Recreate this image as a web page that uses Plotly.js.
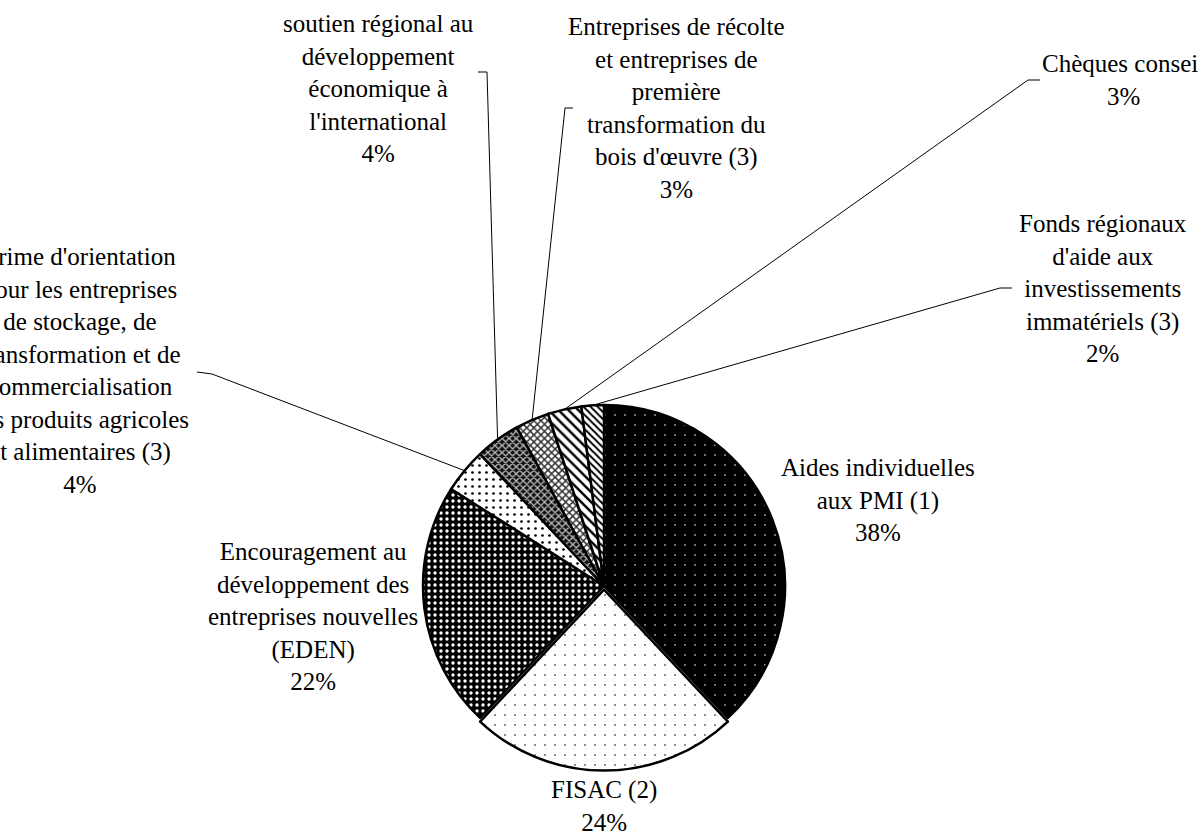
<!DOCTYPE html>
<html>
<head>
<meta charset="utf-8">
<script src="https://cdn.plot.ly/plotly-3.0.1.min.js"></script>
<style>
html,body{margin:0;padding:0;background:#ffffff;}
#chart{width:1198px;height:834px;}
</style>
</head>
<body>
<div id="chart"></div>
<script>
// ---- data ----
const categories = [
  "Aides individuelles aux PMI (1)",
  "FISAC (2)",
  "Encouragement au développement des entreprises nouvelles (EDEN)",
  "Prime d'orientation pour les entreprises de stockage, de transformation et de commercialisation des produits agricoles et alimentaires (3)",
  "soutien régional au développement économique à l'international",
  "Entreprises de récolte et entreprises de première transformation du bois d'œuvre (3)",
  "Chèques conseil",
  "Fonds régionaux d'aide aux investissements immatériels (3)"
];
const labelLines = [
  ["Aides individuelles", "aux PMI (1)"],
  ["FISAC (2)"],
  ["Encouragement au", "développement des", "entreprises nouvelles", "(EDEN)"],
  ["Prime d'orientation", "pour les entreprises", "de stockage, de", "transformation et de", "commercialisation", "des produits agricoles", "et alimentaires (3)"],
  ["soutien régional au", "développement", "économique à", "l'international"],
  ["Entreprises de récolte", "et entreprises de", "première", "transformation du", "bois d'œuvre (3)"],
  ["Chèques conseil"],
  ["Fonds régionaux", "d'aide aux", "investissements", "immatériels (3)"]
];
const values = [38, 24, 22, 4, 4, 3, 3, 2];
const pulls = [0, 0.02, 0, 0, 0, 0, 0, 0];

// ---- layout / style constants (pixels) ----
const W = 1198, H = 834;
const CX = 604, CY = 586, R = 181;
const maxPull = Math.max(...pulls);
const half = R * (1 + maxPull);

// label centres (px) and leader-line anchors
const labelPos = [
  [878, 500], [604, 806], [313, 616], [80, 370],
  [378, 88], [676, 108], [1123, 80], [1103, 288]
];
const leaders = [
  null, null, null,
  [[197, 372], [212, 374]],
  [[478, 72], [487, 72]],
  [[573, 108], [565, 108]],
  [[1040, 80], [1028, 80]],
  [[1012, 288], [1000, 288]]
];

const patShapes = [".", ".", ".", ".", "x", "x", "\\", "\\"];
const patBg = ["#000000", "#ffffff", "#000000", "#ffffff", "#111111", "#ffffff", "#ffffff", "#ffffff"];
const patFg = ["#ffffff", "#000000", "#ffffff", "#000000", "#bbbbbb", "#333333", "#000000", "#000000"];
const patSize = [10, 10, 6, 7, 5, 5, 7, 5];
const patSolid = [0.02, 0.02, 0.25, 0.12, 0.45, 0.5, 0.35, 0.4];

const total = values.reduce((a, b) => a + b, 0);
const px2x = x => x / W;
const px2y = y => 1 - y / H;

const trace = {
  type: "pie",
  labels: categories,
  values: values,
  sort: false,
  direction: "clockwise",
  rotation: 0,
  pull: pulls,
  textinfo: "none",
  hoverinfo: "label+percent",
  showlegend: false,
  domain: {
    x: [px2x(CX - half), px2x(CX + half)],
    y: [px2y(CY + half), px2y(CY - half)]
  },
  marker: {
    colors: patBg,
    line: {color: "#000000", width: 2.5},
    pattern: {
      shape: patShapes,
      bgcolor: patBg,
      fgcolor: patFg,
      size: patSize,
      solidity: patSolid,
      fillmode: "replace"
    }
  }
};

const annotations = [];
const shapes = [];
let cum = 0;
values.forEach((v, i) => {
  const pct = Math.round(v / total * 100) + "%";
  const txt = labelLines[i].concat([pct]).join("<br>");
  annotations.push({
    xref: "paper", yref: "paper",
    x: px2x(labelPos[i][0]), y: px2y(labelPos[i][1]),
    xanchor: "center", yanchor: "middle",
    text: txt, showarrow: false, align: "center",
    font: {family: "Liberation Serif, Times New Roman, serif", size: 25, color: "#000000"}
  });
  const mid = (cum + v / 2) / total;
  cum += v;
  if (leaders[i]) {
    const th = 2 * Math.PI * mid;
    const ex = CX + R * Math.sin(th);
    const ey = CY - R * Math.cos(th);
    const p = leaders[i];
    shapes.push({
      type: "path", xref: "paper", yref: "paper",
      path: "M" + px2x(p[0][0]) + "," + px2y(p[0][1]) +
            " L" + px2x(p[1][0]) + "," + px2y(p[1][1]) +
            " L" + px2x(ex) + "," + px2y(ey),
      line: {color: "#000000", width: 1}
    });
  }
});

const layout = {
  width: W, height: H,
  margin: {l: 0, r: 0, t: 0, b: 0},
  paper_bgcolor: "#ffffff",
  plot_bgcolor: "#ffffff",
  showlegend: false,
  annotations: annotations,
  shapes: shapes
};

Plotly.newPlot("chart", [trace], layout, {displayModeBar: false, staticPlot: true});
</script>
</body>
</html>
